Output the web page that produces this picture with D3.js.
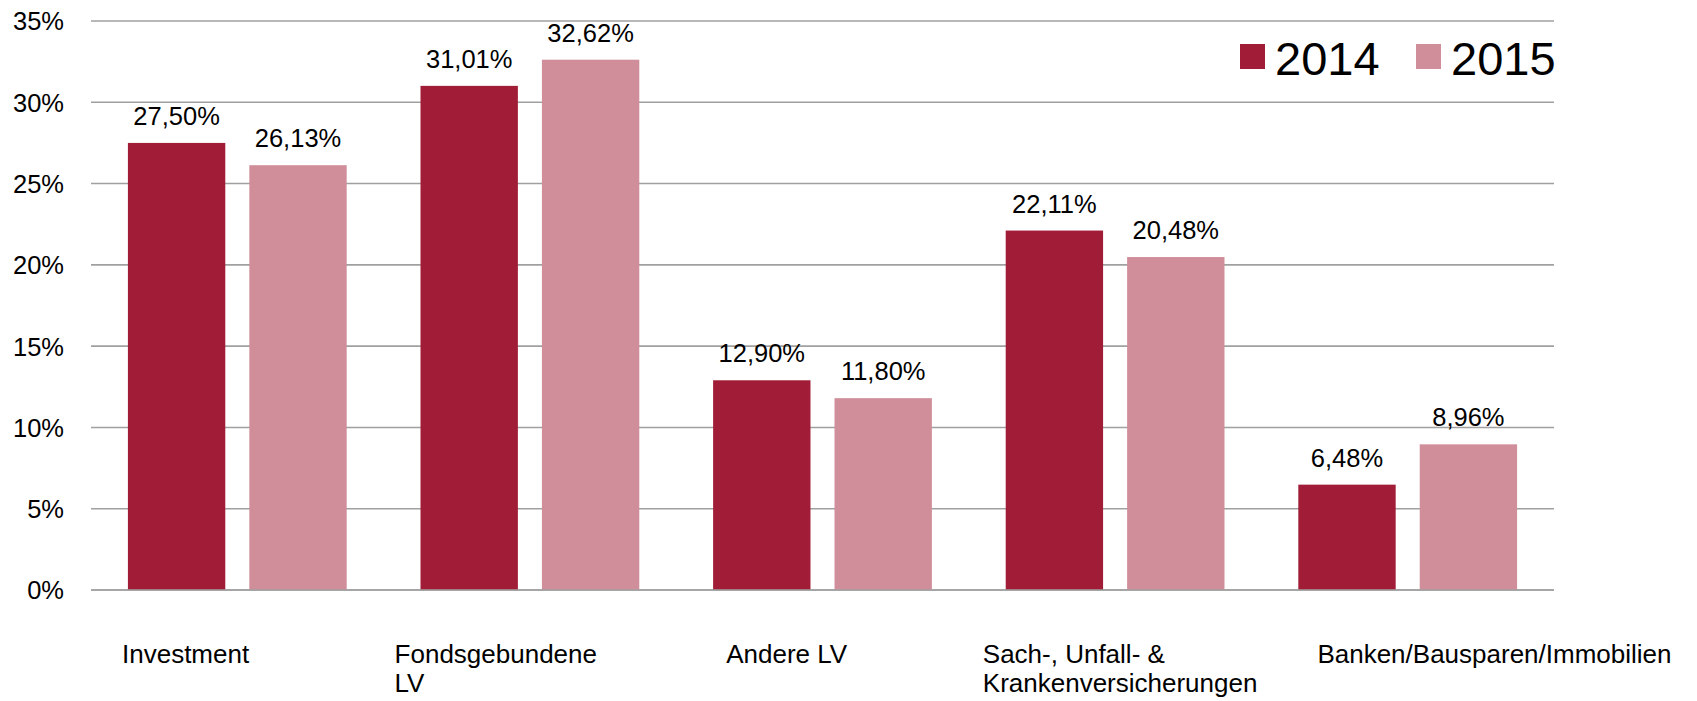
<!DOCTYPE html>
<html>
<head>
<meta charset="utf-8">
<script src="https://cdn.jsdelivr.net/npm/d3@7"></script>
<style>
  html, body { margin: 0; padding: 0; background: #fff; }
  svg { display: block; font-family: "Liberation Sans", Arial, Helvetica, sans-serif; }
</style>
</head>
<body>
<svg id="chart" width="1697" height="701"></svg>
<script>
// ---- data ----
const categories = [
  ["Investment"],
  ["Fondsgebundene", "LV"],
  ["Andere LV"],
  ["Sach-, Unfall- &", "Krankenversicherungen"],
  ["Banken/Bausparen/Immobilien"]
];
const seriesNames = ["2014", "2015"];
const values2014 = [27.50, 31.01, 12.90, 22.11, 6.48];
const values2015 = [26.13, 32.62, 11.80, 20.48, 8.96];
const yTicks = [0, 5, 10, 15, 20, 25, 30, 35];

// ---- layout ----
const W = 1697, H = 701;
const plot = { left: 91, right: 1554, top: 21, bottom: 590 };
const colors = ["#A01C37", "#D08E9A"];
const labelDx = [31, 11, 50, 14, 56]; // left offset of category label inside its band

const svg = d3.select("#chart");
const catIdx = categories.map((d, i) => i);
const x0 = d3.scaleBand().domain(catIdx).range([plot.left, plot.right]).paddingInner(0).paddingOuter(0);
const x1 = d3.scaleBand().domain(seriesNames).range([0, x0.bandwidth()]).paddingInner(0.198).paddingOuter(0.304);
const y = d3.scaleLinear().domain([0, 35]).range([plot.bottom, plot.top]);
const fmt = v => v.toFixed(2).replace(".", ",") + "%";

// gridlines
svg.append("g").selectAll("line").data(yTicks).join("line")
  .attr("x1", plot.left).attr("x2", plot.right)
  .attr("y1", d => y(d)).attr("y2", d => y(d))
  .attr("stroke", "#a0a0a0").attr("stroke-width", 1.6);

// y axis labels
const yAxis = d3.axisLeft(y).tickValues(yTicks).tickSize(0).tickPadding(0).tickFormat(d => d + "%");
const gy = svg.append("g").attr("transform", `translate(64,0)`).call(yAxis);
gy.select(".domain").remove();
gy.selectAll("text").attr("font-size", 25.5).attr("fill", "#000")
  .attr("font-family", "'Liberation Sans', Arial, sans-serif").attr("dy", "0.35em");

// bars
const series = [values2014, values2015];
const groups = svg.append("g").selectAll("g").data(catIdx).join("g")
  .attr("transform", i => `translate(${x0(i)},0)`);

seriesNames.forEach((s, si) => {
  groups.append("rect")
    .attr("x", x1(s)).attr("width", x1.bandwidth())
    .attr("y", i => y(series[si][i]))
    .attr("height", i => y(0) - y(series[si][i]))
    .attr("fill", colors[si]);
  groups.append("text")
    .attr("x", x1(s) + x1.bandwidth() / 2)
    .attr("y", i => y(series[si][i]) - 18)
    .attr("text-anchor", "middle")
    .attr("font-size", 25.5).attr("fill", "#000")
    .text(i => fmt(series[si][i]));
});

// re-draw baseline on top
svg.append("line").attr("x1", plot.left).attr("x2", plot.right)
  .attr("y1", y(0)).attr("y2", y(0)).attr("stroke", "#a0a0a0").attr("stroke-width", 1.6);

// category labels
const xl = svg.append("g").selectAll("text").data(catIdx).join("text")
  .attr("x", i => x0(i) + labelDx[i])
  .attr("y", 662.7)
  .attr("font-size", 26).attr("fill", "#000");
xl.each(function(i) {
  const t = d3.select(this);
  categories[i].forEach((line, li) => {
    t.append("tspan").attr("x", x0(i) + labelDx[i]).attr("dy", li === 0 ? 0 : 29).text(line);
  });
});

// legend
const legX = [1240, 1416];
const leg = svg.append("g").selectAll("g").data(seriesNames).join("g");
leg.append("rect").attr("x", (d, i) => legX[i]).attr("y", 44).attr("width", 25).attr("height", 25)
  .attr("fill", (d, i) => colors[i]);
leg.append("text").attr("x", (d, i) => legX[i] + 35).attr("y", 75)
  .attr("font-size", 47).attr("fill", "#000").text(d => d);
</script>
</body>
</html>
